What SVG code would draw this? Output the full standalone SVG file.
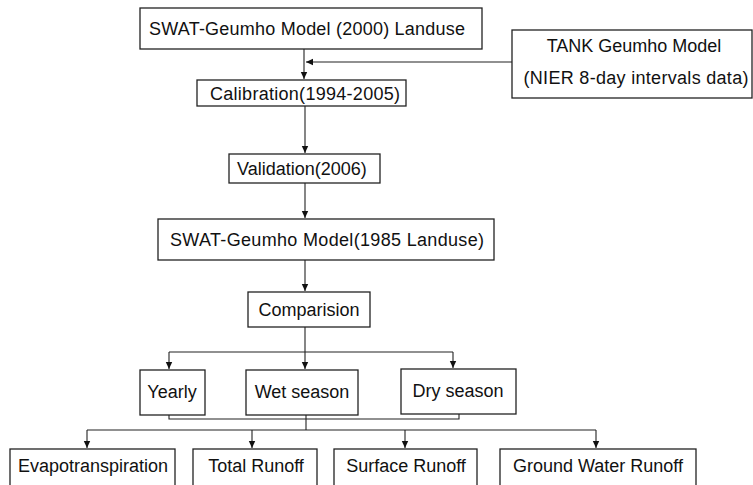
<svg xmlns="http://www.w3.org/2000/svg" width="753" height="485" viewBox="0 0 753 485">
<defs>
<marker id="ah" markerWidth="8" markerHeight="8" refX="7" refY="4" orient="auto" markerUnits="userSpaceOnUse">
<path d="M0,0.8 L7,4 L0,7.2 Z" fill="#111"/>
</marker>
<style>
rect{fill:#fff;stroke:#222;stroke-width:1.3}
text{font-family:"Liberation Sans",Arial,sans-serif;font-size:18px;fill:#111;text-anchor:middle}
.c{fill:none;stroke:#222;stroke-width:1.1}
</style>
</defs>
<rect x="0" y="0" width="753" height="485" style="stroke:none"/>
<g id="connectors">
<path class="c" d="M304,49 V79" marker-end="url(#ah)"/>
<path class="c" d="M512,62 H306" marker-end="url(#ah)"/>
<path class="c" d="M305,106 V153" marker-end="url(#ah)"/>
<path class="c" d="M305,183 V218" marker-end="url(#ah)"/>
<path class="c" d="M305,260 V291" marker-end="url(#ah)"/>
<path class="c" d="M305,327 V369" marker-end="url(#ah)"/>
<path class="c" d="M169,352 H453"/>
<path class="c" d="M169,352 V369" marker-end="url(#ah)"/>
<path class="c" d="M453,352 V368" marker-end="url(#ah)"/>
<path class="c" d="M169,415 V419 H459 V414"/>
<path class="c" d="M306,415 V430"/>
<path class="c" d="M87,430 H596"/>
<path class="c" d="M87,430 V448" marker-end="url(#ah)"/>
<path class="c" d="M252,430 V448" marker-end="url(#ah)"/>
<path class="c" d="M405,430 V448" marker-end="url(#ah)"/>
<path class="c" d="M596,430 V448" marker-end="url(#ah)"/>
</g>
<g id="swat2000"><rect x="140" y="8" width="342" height="41"/><text x="307" y="35" textLength="316">SWAT-Geumho Model (2000) Landuse</text></g>
<g id="tank"><rect x="512" y="30" width="240" height="68"/><text x="634" y="52">TANK Geumho Model</text><text x="636" y="84" textLength="225">(NIER 8-day intervals data)</text></g>
<g id="calibration"><rect x="197" y="80" width="209" height="26"/><text x="305" y="100" textLength="190">Calibration(1994-2005)</text></g>
<g id="validation"><rect x="229" y="154" width="151" height="29"/><text x="302" y="175">Validation(2006)</text></g>
<g id="swat1985"><rect x="158" y="219" width="336" height="41"/><text x="327" y="246" textLength="314">SWAT-Geumho Model(1985 Landuse)</text></g>
<g id="comparision"><rect x="248" y="292" width="122" height="35"/><text x="309" y="316">Comparision</text></g>
<g id="yearly"><rect x="140" y="370" width="65" height="45"/><text x="172" y="398">Yearly</text></g>
<g id="wet"><rect x="246" y="370" width="112" height="45"/><text x="302" y="398">Wet season</text></g>
<g id="dry"><rect x="401" y="369" width="115" height="45"/><text x="458" y="397">Dry season</text></g>
<g id="evapo"><rect x="10" y="449" width="165" height="42"/><text x="93" y="472">Evapotranspiration</text></g>
<g id="total"><rect x="193" y="449" width="124" height="42"/><text x="256" y="472">Total Runoff</text></g>
<g id="surface"><rect x="334" y="449" width="143" height="42"/><text x="406" y="472">Surface Runoff</text></g>
<g id="ground"><rect x="500" y="449" width="196" height="42"/><text x="598" y="472">Ground Water Runoff</text></g>
</svg>
